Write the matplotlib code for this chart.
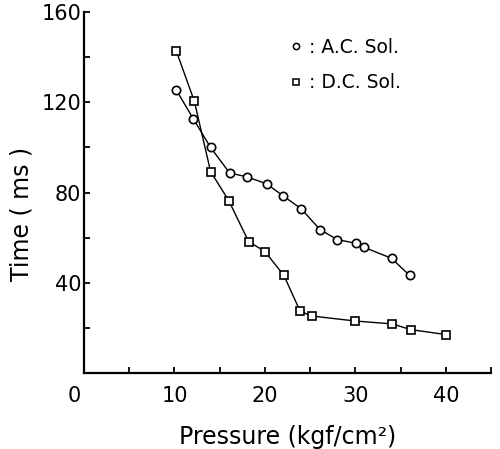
import matplotlib
matplotlib.use("Agg")
import matplotlib.pyplot as plt
from matplotlib.lines import Line2D
import matplotlib.transforms as mtransforms

plt.rcParams['font.family'] = ['DejaVu Sans']

# A.C. solenoid
ac_pressure = [10.2, 12.1, 14.0, 16.1, 18.0, 20.2, 22.0, 24.0, 26.1, 28.0, 30.1, 31.0, 34.0, 36.0]
ac_time = [125.5, 112.6, 100.0, 88.7, 87.0, 83.9, 78.6, 72.9, 63.6, 59.2, 57.5, 55.7, 50.9, 43.3]
# D.C. solenoid
dc_pressure = [10.2, 12.2, 14.0, 16.0, 18.2, 20.0, 22.1, 23.9, 25.2, 30.0, 34.1, 36.1, 40.0]
dc_time = [142.8, 120.5, 89.3, 76.5, 58.3, 53.9, 43.3, 27.4, 25.3, 23.1, 21.8, 19.3, 17.1]

x_ticks = [0, 5, 10, 15, 20, 25, 30, 35, 40, 45]
x_tick_labels = ['0', '', '10', '', '20', '', '30', '', '40', '']
y_ticks = [0, 20, 40, 60, 80, 100, 120, 140, 160]
y_tick_labels = ['', '', '40', '', '80', '', '120', '', '160']

fig = plt.figure(figsize=(5.0, 4.49), dpi=100)
ax = fig.add_axes([0.168, 0.169, 0.814, 0.804])

ax.plot(ac_pressure, ac_time, '-', color='black', lw=1.0, marker='o', ms=6.0,
        mfc='white', mec='black', mew=1.2, zorder=3)
ax.plot(dc_pressure, dc_time, '-', color='black', lw=1.0, marker='s', ms=5.2,
        mfc='white', mec='black', mew=1.2, zorder=3)

ax.set_xlim(0, 45)
ax.set_ylim(0, 160)
ax.set_xticks(x_ticks)
ax.set_xticklabels(x_tick_labels)
ax.set_yticks(y_ticks)
ax.set_yticklabels(y_tick_labels)

for s in ['top', 'right']:
    ax.spines[s].set_visible(False)
for s in ['left', 'bottom']:
    ax.spines[s].set_linewidth(1.6)

ax.tick_params(axis='both', direction='in', length=4.5, width=1.3, labelsize=15,
               color='black')
ax.tick_params(axis='x', pad=9)
ax.tick_params(axis='y', pad=2)

# shift "0" x-label slightly left
lbl0 = ax.get_xticklabels()[0]
lbl0.set_transform(lbl0.get_transform() + mtransforms.ScaledTranslation(-10/100, 0, fig.dpi_scale_trans))

ax.set_xlabel('Pressure (kgf/cm\u00b2)', fontsize=17)
ax.xaxis.set_label_coords(0.5, -0.145)
ax.set_ylabel('Time ( ms )', fontsize=17)
ax.yaxis.set_label_coords(-0.125, 0.44)

handles = [Line2D([], [], ls='none', marker='o', ms=4.5, mfc='white', mec='black', mew=1.1),
           Line2D([], [], ls='none', marker='s', ms=4.2, mfc='white', mec='black', mew=1.1)]
ax.legend(handles, [': A.C. Sol.', ': D.C. Sol.'], loc='upper left',
          bbox_to_anchor=(0.485, 0.955), frameon=False, fontsize=13.5,
          handlelength=0.6, handletextpad=0.35, labelspacing=0.88, borderpad=0)

fig.savefig('out.png', dpi=100)
